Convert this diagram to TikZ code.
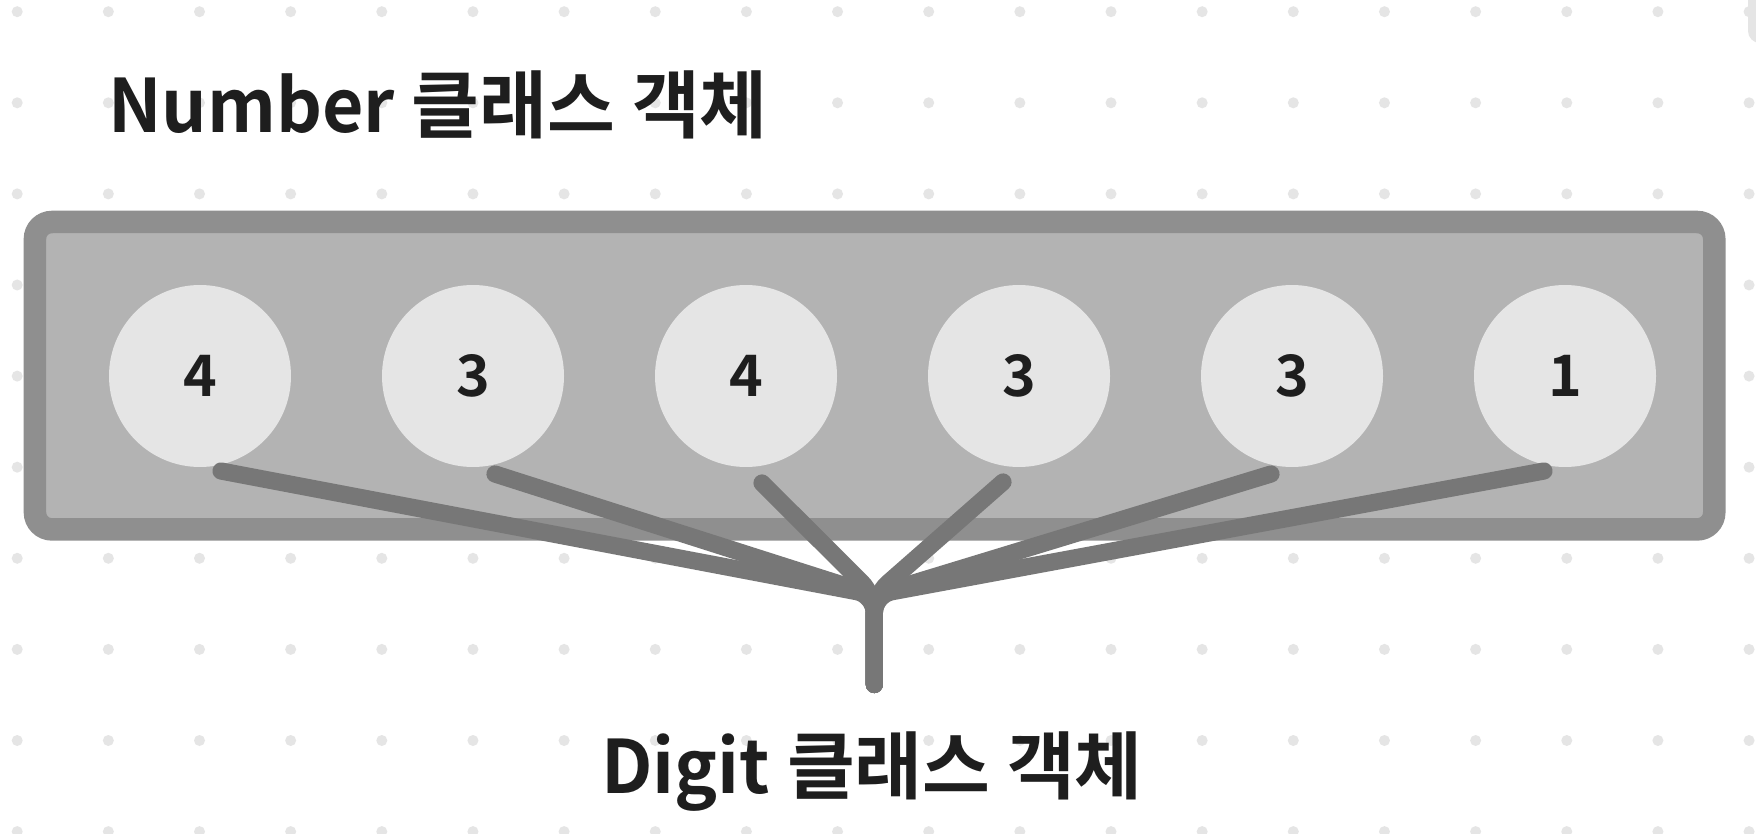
\documentclass[tikz,border=0pt]{standalone}
\usepackage{fontspec}
\newfontfamily\kr{Noto Sans CJK KR}[BoldFont={Noto Sans CJK KR Bold}]
\definecolor{dotc}{HTML}{E5E5E5}
\definecolor{boxborder}{HTML}{8F8F8F}
\definecolor{boxfill}{HTML}{B3B3B3}
\definecolor{circfill}{HTML}{E5E5E5}
\definecolor{connc}{HTML}{777777}
\definecolor{txt}{HTML}{1E1E1E}
\tikzset{
  digitcirc/.style={circle, fill=circfill, minimum size=91pt, inner sep=0pt, text=txt,
    font=\kr\bfseries\fontsize{28.6}{30}\selectfont},
  conn/.style={draw=connc, line width=8.6pt, line cap=round, rounded corners=9pt},
  titletext/.style={inner sep=0pt, text=txt, font=\kr\bfseries\fontsize{36.85}{40}\selectfont},
  outerbox/.style={draw=boxborder, fill=boxfill, line width=11.25pt, rounded corners=8.5pt,
    minimum width=839.65pt, minimum height=153.7pt, inner sep=0pt}
}
\begin{document}
\begin{tikzpicture}[x=0.5pt,y=-0.5pt]
\useasboundingbox (0,0) rectangle (1756,834);
\clip (0,0) rectangle (1756,834);
\fill[white] (0,0) rectangle (1756,834);
% dot grid
\foreach \i in {0,...,19}{
  \foreach \j in {0,...,9}{
    \fill[dotc] ({17.2+91.15*\i},{11.7+91.1*\j}) circle (2.75pt);
  }
}
\fill[dotc, rounded corners=6pt] (1748,-30) rectangle (1800,43);
% titles
\node[titletext, anchor=base west] (title) at (108,133) {\scalebox{0.97}[1]{Number} 클래스 객체};
\node[titletext, anchor=base] (sub) at (872,793.3) {\scalebox{0.98}[1]{Digit} 클래스 객체};
% container
\node[outerbox] (box) at (874.6,375.7) {};
% digits
\node[digitcirc] (c1) at (200,376) {4};
\node[digitcirc] (c2) at (473,376) {3};
\node[digitcirc] (c3) at (746,376) {4};
\node[digitcirc] (c4) at (1019,376) {3};
\node[digitcirc] (c5) at (1292,376) {3};
\node[digitcirc] (c6) at (1565,376) {1};
% connectors
\coordinate (s1) at (221,471);
\coordinate (s2) at (495,474);
\coordinate (s3) at (762,483);
\coordinate (s4) at (1003,482);
\coordinate (s5) at (1271,474);
\coordinate (s6) at (1544,471);
\coordinate (J) at (874.3,595);
\coordinate (E) at (874.3,684.5);
\foreach \k in {1,...,6}{
  \draw[conn] (s\k) -- (J) -- (E);
}
\end{tikzpicture}
\end{document}
